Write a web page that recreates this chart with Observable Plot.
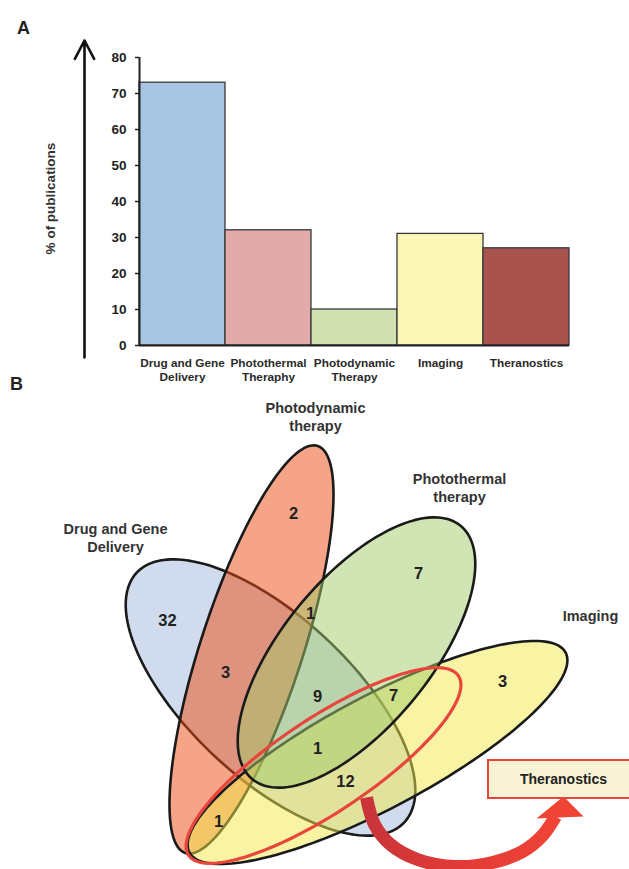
<!DOCTYPE html>
<html><head><meta charset="utf-8">
<script src="https://cdn.jsdelivr.net/npm/d3@7"></script>
<script src="https://cdn.jsdelivr.net/npm/@observablehq/plot@0.6"></script>
<style>
html,body{margin:0;padding:0;background:#fff;overflow:hidden;}
#chart svg{display:block;}
</style></head><body><div id="chart"></div>
<script>
// ---------- Panel A data ----------
const categories = ["Drug and Gene Delivery", "Photothermal Theraphy", "Photodynamic Therapy", "Imaging", "Theranostics"];
const tickLabels = ["Drug and Gene\nDelivery", "Photothermal\nTheraphy", "Photodynamic\nTherapy", "Imaging", "Theranostics"];
const percentages = [73, 32, 10, 31, 27];
const yTicks = [0, 10, 20, 30, 40, 50, 60, 70, 80];
const yLabel = "% of publications";

// ---------- Panel B data ----------
const setNames = ["Drug and Gene\nDelivery", "Photodynamic\ntherapy", "Imaging", "Photothermal\ntherapy"];
const regionCounts = [32, 2, 7, 3, 3, 1, 9, 7, 1, 12, 1];
const highlightLabel = "Theranostics";

// ---------- styles & layout ----------
const barColors = ["#a7c4e2", "#e2aaa9", "#d1e0b1", "#fbf6b6", "#a9534f"];
const setColors = ["#a1b9dd", "#eb4a10", "#f1e949", "#a1c969"];
const setShapes = [
  {cx: 270, cy: 697, a: 183, b: 81, rot: 43},
  {cx: 251, cy: 649, a: 214, b: 51, rot: -72},
  {cx: 377, cy: 752, a: 213, b: 56, rot: -28},
  {cx: 356, cy: 652, a: 164, b: 74, rot: -50.6}
];
const theraShape = {cx: 323, cy: 765, a: 162, b: 47, rot: -33.6};
const setLabelPos = [[115, 537], [315, 416], [590, 615], [459, 487]];
const regionPos = [[167, 620], [293, 513], [418, 573], [502, 681], [225, 672], [310, 613], [317, 696], [393, 695], [317, 748], [345, 781], [218, 821]];
const arcPath = [[366, 797], [374, 824], [390, 844], [417, 859], [455, 866], [492, 862], [522, 851], [542, 835], [555, 816]];
const arrowHead = [[563, 796], [536, 818], [583, 816]];
const boxPos = {x1: 488, x2: 645, y1: 760, y2: 798};

const font = "'Liberation Sans', Arial, Helvetica, sans-serif";

function ellipsePoints(e) {
  const pts = [];
  const r = e.rot * Math.PI / 180, cr = Math.cos(r), sr = Math.sin(r);
  for (let k = 0; k < 180; k++) {
    const t = 2 * Math.PI * k / 180, c = Math.cos(t), s = Math.sin(t);
    pts.push({x: e.cx + e.a * c * cr - e.b * s * sr, y: e.cy + e.a * c * sr + e.b * s * cr});
  }
  return pts;
}

// gradient definition for the curved arrow
function arcGradient() {
  const ns = "http://www.w3.org/2000/svg";
  const defs = document.createElementNS(ns, "defs");
  const g = document.createElementNS(ns, "linearGradient");
  g.setAttribute("id", "arcGrad");
  g.setAttribute("x1", "0"); g.setAttribute("x2", "1"); g.setAttribute("y1", "0"); g.setAttribute("y2", "0");
  [["0", "#c9343a"], ["0.5", "#e23b37"], ["1", "#ef4335"]].forEach(([o, c]) => {
    const s = document.createElementNS(ns, "stop");
    s.setAttribute("offset", o); s.setAttribute("stop-color", c);
    g.appendChild(s);
  });
  defs.appendChild(g);
  return defs;
}

// ---------- Panel A ----------
const bars = categories.map((c, i) => ({category: c, value: percentages[i], i, color: barColors[i]}));

const plotA = Plot.plot({
  width: 629, height: 380,
  marginLeft: 139, marginRight: 60, marginTop: 57, marginBottom: 35,
  style: {fontFamily: font, overflow: "visible", background: "#fff"},
  x: {domain: [0, 5], axis: null},
  y: {domain: [0, 80], axis: null},
  color: {type: "identity"},
  marks: [
    Plot.rectY(bars, {x1: d => d.i, x2: d => d.i + 1, y: "value", fill: "color", stroke: "#383838", strokeWidth: 1.3}),
    Plot.ruleY([0], {stroke: "#222", strokeWidth: 2}),
    Plot.ruleX([0], {stroke: "#222", strokeWidth: 2}),
    Plot.axisY({ticks: yTicks, label: null, tickSize: 4, tickPadding: 9, fontSize: 13.5, fontWeight: "bold", stroke: "#222", fill: "#222", strokeWidth: 1.5}),
    Plot.axisX({ticks: [0.5, 1.5, 2.5, 3.5, 4.5], label: null, tickFormat: d => tickLabels[Math.floor(d)], tickSize: 0, tickPadding: 11, fontSize: 11.8, fontWeight: "bold", fill: "#2a2a2a", lineHeight: 1.2}),
    Plot.arrow([0], {x1: () => 0, x2: () => 0, y1: () => 0, y2: () => 80, dx: -55, insetStart: -12, insetEnd: -17, stroke: "#111", strokeWidth: 2.6, headLength: 12, headAngle: 55}),
    Plot.text([yLabel], {text: d => d, frameAnchor: "left", textAnchor: "middle", lineAnchor: "middle", dx: -89, dy: -3, rotate: -90, fontSize: 13.5, fontWeight: "bold", fill: "#333"}),
    Plot.text(["A"], {text: d => d, frameAnchor: "top-left", textAnchor: "middle", lineAnchor: "middle", dx: -116, dy: -29, fontSize: 18, fontWeight: "bold", fill: "#222"})
  ]
});

// ---------- Panel B ----------
const plotB = Plot.plot({
  width: 629, height: 489,
  marginLeft: 0, marginRight: 0, marginTop: 0, marginBottom: 0,
  style: {fontFamily: font, overflow: "visible", background: "#fff"},
  x: {domain: [0, 629], axis: null},
  y: {domain: [869, 380], axis: null},
  marks: [
    arcGradient,
    ...setShapes.map((e, i) => Plot.line(ellipsePoints(e), {x: "x", y: "y", curve: "linear-closed", fill: setColors[i], fillOpacity: 0.5, stroke: "#1a1a1a", strokeWidth: 2.6})),
    Plot.line(arcPath, {x: d => d[0], y: d => d[1], curve: "catmull-rom", stroke: "url(#arcGrad)", strokeWidth: 13, strokeLinecap: "butt", strokeLinejoin: "round"}),
    Plot.line(arrowHead, {x: d => d[0], y: d => d[1], curve: "linear-closed", fill: "#ef4335", stroke: "none"}),
    Plot.line(ellipsePoints(theraShape), {x: "x", y: "y", curve: "linear-closed", stroke: "#e8453c", strokeWidth: 3.2}),
    Plot.rect([boxPos], {x1: "x1", x2: "x2", y1: "y1", y2: "y2", fill: "#f7f3d4", stroke: "#e8453c", strokeWidth: 2}),
    Plot.text([highlightLabel], {text: d => d, x: () => 563, y: () => 779, fontSize: 14, fontWeight: "bold", fill: "#222"}),
    Plot.text(setNames, {text: d => d, x: (d, i) => setLabelPos[i][0], y: (d, i) => setLabelPos[i][1], fontSize: 14.5, fontWeight: "bold", fill: "#333", lineHeight: 1.22}),
    Plot.text(regionCounts, {text: d => String(d), x: (d, i) => regionPos[i][0], y: (d, i) => regionPos[i][1], fontSize: 16.5, fontWeight: "bold", fill: "#222"}),
    Plot.text(["B"], {text: d => d, x: () => 16, y: () => 384, fontSize: 18, fontWeight: "bold", fill: "#222"})
  ]
});

const root = document.getElementById("chart");
root.appendChild(plotA);
root.appendChild(plotB);
</script>
</body></html>
